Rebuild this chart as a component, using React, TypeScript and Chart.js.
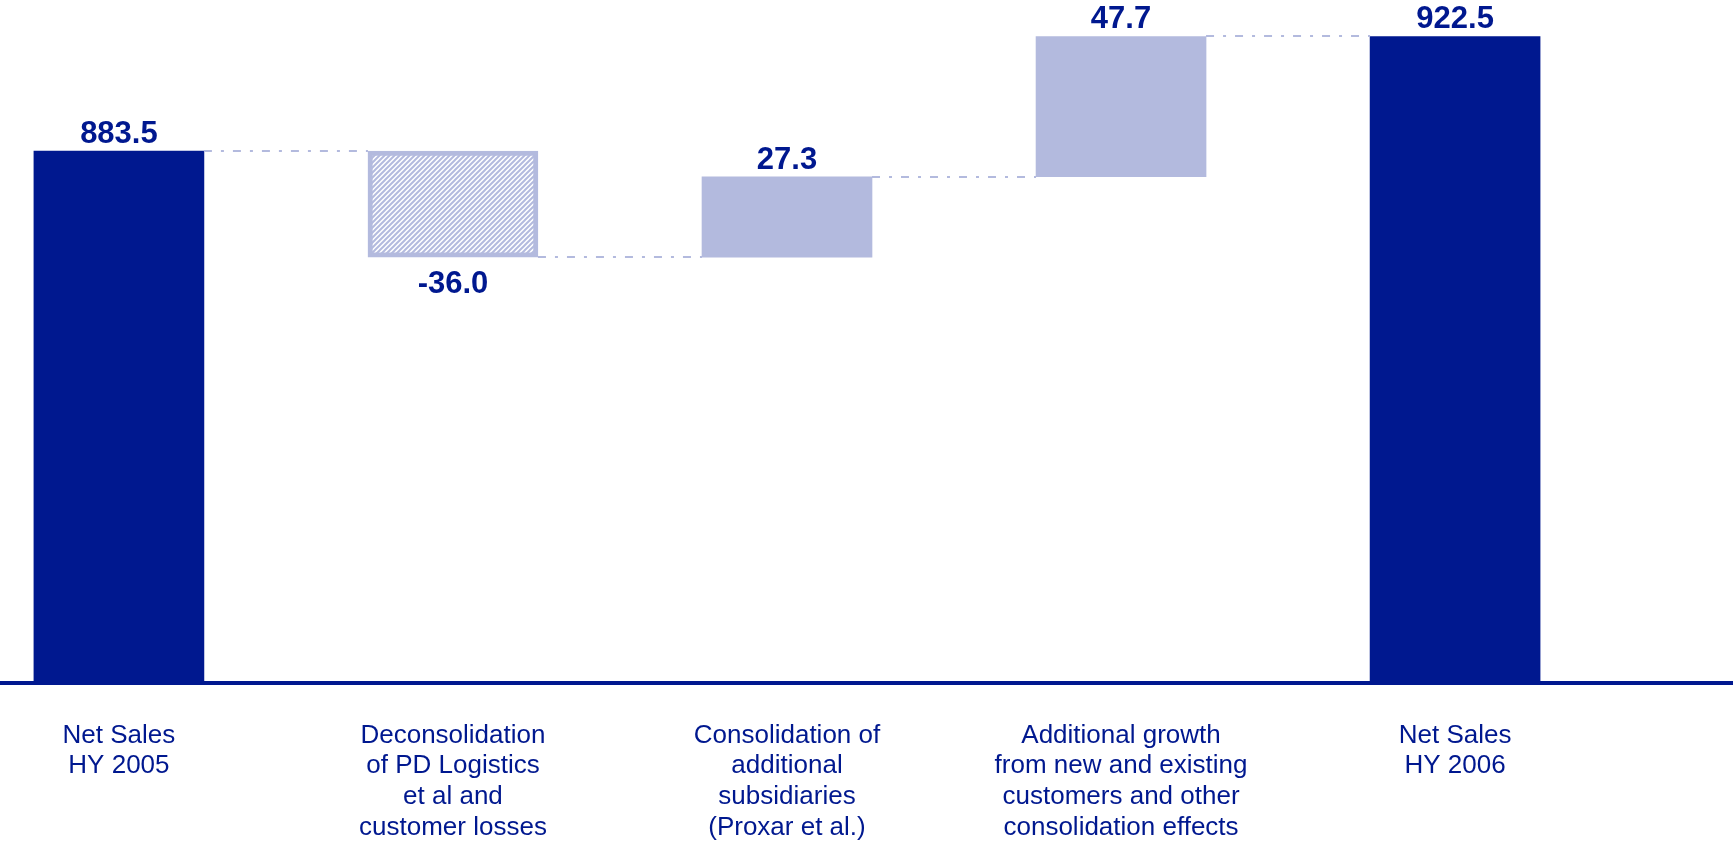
import React, { useEffect, useRef } from 'react';
import { Chart, registerables } from 'chart.js';

Chart.register(...registerables);

// ---- data ----
const CATEGORIES: string[][] = [
  ['Net Sales', 'HY 2005'],
  ['Deconsolidation', 'of PD Logistics', 'et al and', 'customer losses'],
  ['Consolidation of', 'additional', 'subsidiaries', '(Proxar et al.)'],
  ['Additional growth', 'from new and existing', 'customers and other', 'consolidation effects'],
  ['Net Sales', 'HY 2006'],
];
const VALUES: number[] = [883.5, -36.0, 27.3, 47.7, 922.5];
const IS_TOTAL: boolean[] = [true, false, false, false, true];
const VALUE_LABELS: string[] = ['883.5', '-36.0', '27.3', '47.7', '922.5'];

// axis ranges (truncated value axis, as in the original)
const Y_MIN = 702.7;
const Y_MAX = 934.9;
const X_MIN = -0.356;
const X_MAX = 4.832;

const NAVY = '#00188F';
const LIGHT = '#B3BADE';
const FONT = '"Liberation Sans", Arial, sans-serif';

// build floating bars & running levels from the data
const LEVELS: number[] = [];
const BARS: { x: number; y: number | [number, number] }[] = [];
{
  let running = 0;
  VALUES.forEach((v, i) => {
    if (IS_TOTAL[i]) {
      running = v;
      BARS.push({ x: i, y: v });
    } else {
      const start = running;
      running = Math.round((running + v) * 10) / 10;
      BARS.push({ x: i, y: [start, running] });
    }
    LEVELS.push(running);
  });
}

function makeHatch(): CanvasPattern | string {
  const c = document.createElement('canvas');
  const s = 5;
  c.width = s;
  c.height = s;
  const g = c.getContext('2d');
  if (!g) return LIGHT;
  g.fillStyle = '#ffffff';
  g.fillRect(0, 0, s, s);
  g.strokeStyle = LIGHT;
  g.lineWidth = 2;
  g.beginPath();
  g.moveTo(-1, s + 1);
  g.lineTo(s + 1, -1);
  g.moveTo(-1, 1);
  g.lineTo(1, -1);
  g.moveTo(s - 1, s + 1);
  g.lineTo(s + 1, s - 1);
  g.stroke();
  return g.createPattern(c, 'repeat') || LIGHT;
}

const decorPlugin = {
  id: 'waterfallDecor',
  afterDatasetsDraw(chart: any) {
    const ctx: CanvasRenderingContext2D = chart.ctx;
    const meta = chart.getDatasetMeta(0);
    const yScale = chart.scales.y;
    ctx.save();
    // dash-dot connectors
    ctx.strokeStyle = LIGHT;
    ctx.lineWidth = 2;
    ctx.setLineDash([8, 9, 3, 9]);
    for (let i = 0; i < meta.data.length - 1; i++) {
      const a = meta.data[i];
      const b = meta.data[i + 1];
      const py = Math.round(yScale.getPixelForValue(LEVELS[i]));
      ctx.beginPath();
      ctx.moveTo(a.x + a.width / 2, py);
      ctx.lineTo(b.x - b.width / 2, py);
      ctx.stroke();
    }
    ctx.setLineDash([]);
    // value labels
    ctx.fillStyle = NAVY;
    ctx.font = `bold 31px ${FONT}`;
    ctx.textAlign = 'center';
    ctx.textBaseline = 'alphabetic';
    meta.data.forEach((el: any, i: number) => {
      const top = Math.min(el.y, el.base);
      const bottom = Math.max(el.y, el.base);
      if (VALUES[i] < 0) {
        ctx.fillText(VALUE_LABELS[i], el.x, bottom + 36);
      } else {
        ctx.fillText(VALUE_LABELS[i], el.x, top - 8);
      }
    });
    ctx.restore();
  },
};

export default function App() {
  const canvasRef = useRef<HTMLCanvasElement | null>(null);

  useEffect(() => {
    if (!canvasRef.current) return;
    const hatch = makeHatch();
    const chart = new Chart(canvasRef.current, {
      type: 'bar',
      data: {
        datasets: [
          {
            data: BARS as any,
            backgroundColor: VALUES.map((v, i) => (IS_TOTAL[i] ? NAVY : v < 0 ? hatch : LIGHT)) as any,
            borderColor: VALUES.map((v, i) => (IS_TOTAL[i] ? NAVY : LIGHT)),
            borderWidth: VALUES.map((v, i) => (!IS_TOTAL[i] && v < 0 ? 5 : 0)),
            borderSkipped: false,
            barThickness: 170,
          },
        ],
      },
      options: {
        animation: false,
        responsive: true,
        maintainAspectRatio: false,
        layout: { padding: 0 },
        plugins: {
          legend: { display: false },
          tooltip: { enabled: false },
        },
        scales: {
          x: {
            type: 'linear',
            min: X_MIN,
            max: X_MAX,
            offset: false,
            grid: { display: false, drawTicks: false },
            border: { display: true, color: NAVY, width: 4 },
            ticks: {
              stepSize: 1,
              includeBounds: false,
              autoSkip: false,
              maxRotation: 0,
              minRotation: 0,
              padding: 37,
              color: NAVY,
              font: { family: FONT, size: 26, lineHeight: 1.18 },
              callback: (value: any) => CATEGORIES[Math.round(Number(value))] ?? '',
            } as any,
            afterFit: (scale: any) => {
              scale.height = 159;
            },
          },
          y: {
            display: false,
            min: Y_MIN,
            max: Y_MAX,
          },
        },
      },
      plugins: [decorPlugin],
    });
    return () => chart.destroy();
  }, []);

  return (
    <div style={{ position: 'fixed', left: 0, top: 0, width: '100vw', height: '100vh' }}>
      <canvas ref={canvasRef} />
    </div>
  );
}
